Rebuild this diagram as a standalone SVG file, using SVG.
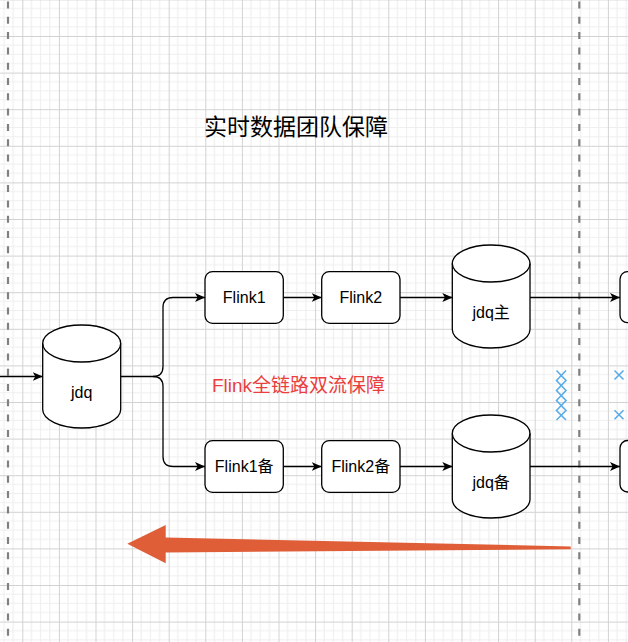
<svg xmlns="http://www.w3.org/2000/svg" width="628" height="642" viewBox="0 0 628 642">
  <defs>
    <pattern id="grid" x="22.3" y="-0.6" width="36.6" height="36.6" patternUnits="userSpaceOnUse">
      <path d="M9.15,0V36.6M18.3,0V36.6M27.45,0V36.6M0,9.15H36.6M0,18.3H36.6M0,27.45H36.6" stroke="#efefef" stroke-width="1.2" fill="none"/>
      <path d="M0.5,0V36.6M0,0.5H36.6" stroke="#d2d2d2" stroke-width="1" fill="none"/>
    </pattern>
    <marker id="arr" viewBox="0 0 10 9" refX="10" refY="4.5" markerWidth="10" markerHeight="9" markerUnits="userSpaceOnUse" orient="auto">
      <path d="M0,0 L10,4.5 L0,9 L2.6,4.5 Z" fill="#000"/>
    </marker>
    <style>
      .box{fill:#fff;stroke:#000;stroke-width:1.3}
      .cyl{fill:#fff;stroke:#000;stroke-width:1.3}
      .cylf{fill:none;stroke:#000;stroke-width:1.3}
      .lbl{font-family:"Liberation Sans","Noto Sans CJK SC",sans-serif;font-size:16px;fill:#000;text-anchor:middle}
      .con{fill:none;stroke:#000;stroke-width:1.3}
      .dash{fill:none;stroke:#808080;stroke-width:2.2;stroke-dasharray:7 8.3}
      .bx{fill:none;stroke:#5aade8;stroke-width:1.6}
    </style>
  </defs>
  <rect width="628" height="642" fill="#fff"/>
  <rect width="628" height="642" fill="url(#grid)"/>

  <g id="swimlane-lines">
    <line class="dash" x1="8" y1="1.5" x2="8" y2="642"/>
    <line class="dash" x1="579.3" y1="1.5" x2="579.3" y2="642"/>
  </g>

  <g id="title">
    <text x="296" y="134.5" style="font-family:'Noto Sans CJK SC',sans-serif;font-size:23px;fill:#000;text-anchor:middle">实时数据团队保障</text>
  </g>

  <g id="note">
    <text x="298.5" y="392" style="font-family:'Liberation Sans','Noto Sans CJK SC',sans-serif;font-size:19px;fill:#eb3e3e;text-anchor:middle">Flink全链路双流保障</text>
  </g>

  <g id="connectors">
    <path class="con" d="M0,376.5 H42.7" marker-end="url(#arr)"/>
    <path class="con" d="M120.7,376.5 H153 Q163,376.5 163,366.5 V307.5 Q163,297.5 173,297.5 H205" marker-end="url(#arr)"/>
    <path class="con" d="M153,376.5 Q163,376.5 163,386.5 V456.5 Q163,466.5 173,466.5 H205" marker-end="url(#arr)"/>
    <path class="con" d="M283.3,297.5 H321.7" marker-end="url(#arr)"/>
    <path class="con" d="M400,297.5 H452.3" marker-end="url(#arr)"/>
    <path class="con" d="M530,297.5 H620" marker-end="url(#arr)"/>
    <path class="con" d="M283.3,466.5 H321.7" marker-end="url(#arr)"/>
    <path class="con" d="M400,466.5 H452.3" marker-end="url(#arr)"/>
    <path class="con" d="M530,466.5 H620" marker-end="url(#arr)"/>
  </g>

  <g id="jdq">
    <path class="cyl" d="M42.7,343.5 A39,18.5 0 0 1 120.7,343.5 V409.5 A39,18.5 0 0 1 42.7,409.5 Z"/>
    <path class="cylf" d="M42.7,343.5 A39,18.5 0 0 0 120.7,343.5"/>
    <text class="lbl" x="81.7" y="397.5">jdq</text>
  </g>

  <g id="flink1">
    <rect class="box" x="205" y="271.7" width="78.3" height="51.6" rx="7.5"/>
    <text class="lbl" x="244.2" y="302.7">Flink1</text>
  </g>
  <g id="flink2">
    <rect class="box" x="321.7" y="271.7" width="78.3" height="51.6" rx="7.5"/>
    <text class="lbl" x="360.8" y="302.7">Flink2</text>
  </g>
  <g id="jdq-main">
    <path class="cyl" d="M452.3,263.5 A38.85,18.5 0 0 1 530,263.5 V329.5 A38.85,18.5 0 0 1 452.3,329.5 Z"/>
    <path class="cylf" d="M452.3,263.5 A38.85,18.5 0 0 0 530,263.5"/>
    <text class="lbl" x="491.2" y="318">jdq主</text>
  </g>
  <g id="next-main">
    <rect class="box" x="620" y="271.7" width="40" height="51" rx="7.5"/>
  </g>

  <g id="flink1-bak">
    <rect class="box" x="205" y="440.7" width="78.3" height="51.6" rx="7.5"/>
    <text class="lbl" x="244.2" y="471.7">Flink1备</text>
  </g>
  <g id="flink2-bak">
    <rect class="box" x="321.7" y="440.7" width="78.3" height="51.6" rx="7.5"/>
    <text class="lbl" x="360.8" y="471.7">Flink2备</text>
  </g>
  <g id="jdq-bak">
    <path class="cyl" d="M452.3,433.5 A38.85,18.5 0 0 1 530,433.5 V499.5 A38.85,18.5 0 0 1 452.3,499.5 Z"/>
    <path class="cylf" d="M452.3,433.5 A38.85,18.5 0 0 0 530,433.5"/>
    <text class="lbl" x="491.2" y="487.5">jdq备</text>
  </g>
  <g id="next-bak">
    <rect class="box" x="620" y="440.5" width="40" height="51.5" rx="7.5"/>
  </g>

  <g id="cut-marks">
    <path class="bx" d="M556.5,370.5 L566,380.5 L556.5,390.5 L566,400.5 L556.5,410.5 L566,420"/>
    <path class="bx" d="M566,370.5 L556.5,380.5 L566,390.5 L556.5,400.5 L566,410.5 L556.5,420"/>
    <path class="bx" d="M614.5,370.5 L623.5,379.5 M623.5,370.5 L614.5,379.5"/>
    <path class="bx" d="M614.5,410.2 L623.5,419.2 M623.5,410.2 L614.5,419.2"/>
  </g>

  <g id="big-arrow">
    <polygon points="570.7,546.4 165.7,537.6 165.7,525 127.3,543.7 165.7,563.3 165.7,552.4 570.7,549.2" fill="#df5d37"/>
  </g>
</svg>
